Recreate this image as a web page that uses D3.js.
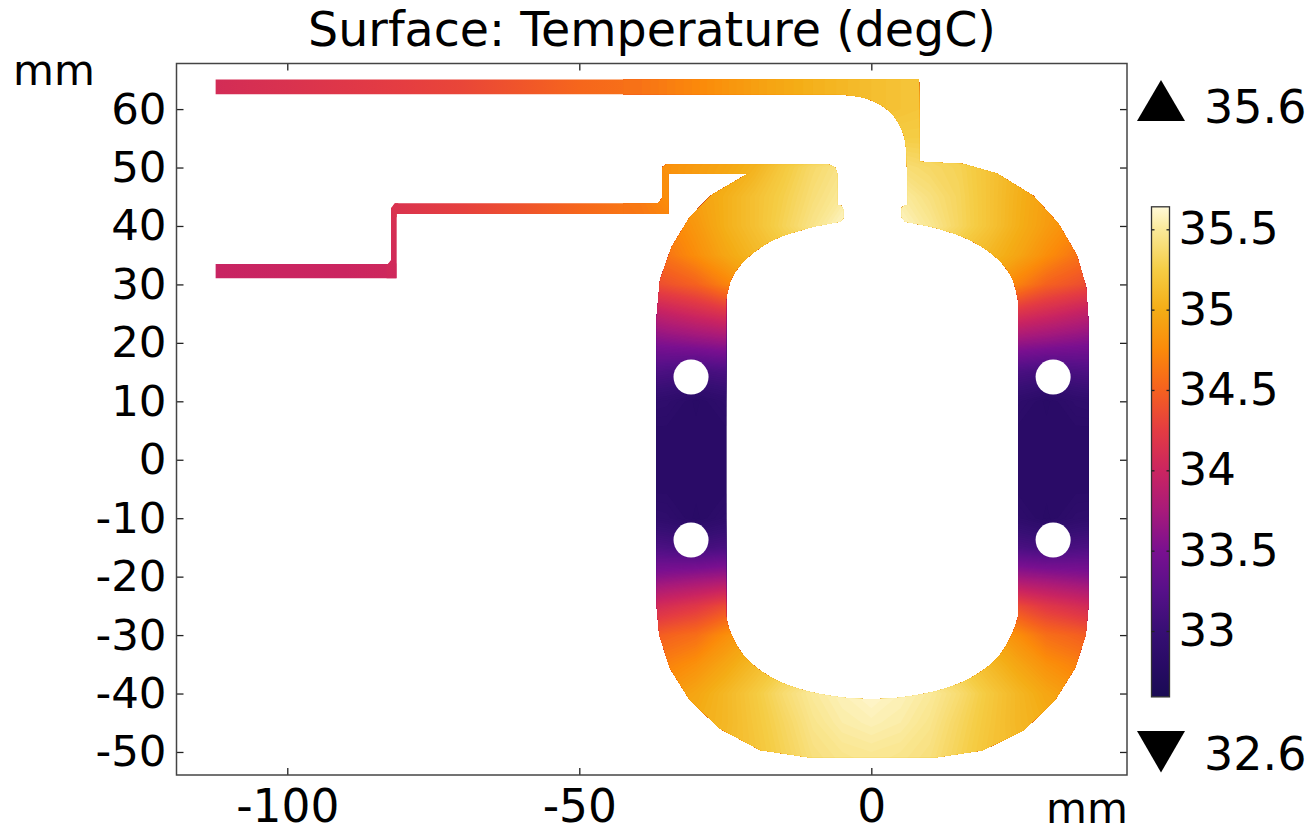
<!DOCTYPE html>
<html>
<head>
<meta charset="utf-8">
<script src="https://cdn.jsdelivr.net/npm/d3@7"></script>
<style>
    body { margin: 0; background: #fff; }
    text { font-family: "DejaVu Sans", sans-serif; fill: #000; }
</style>
</head>
<body>
<div id="chart-area"></div>
<script>
// colour table
var colorTemps = [32.6, 32.8, 33, 33.25, 33.5, 33.75, 34, 34.25, 34.5, 34.75, 35, 35.25, 35.5, 35.64];
var colorHexes = ["#1a0b55", "#290b66", "#370f74", "#571089", "#7a1090", "#a81a7a", "#cb2560", "#e43c42",
    "#f5611f", "#fb8a0a", "#f4ad16", "#f5cd45", "#fae99a", "#fff9d8"];

var xTicks = [-100, -50, 0];
var yTicks = [-50, -40, -30, -20, -10, 0, 10, 20, 30, 40, 50, 60];
var barTicks = [33, 33.5, 34, 34.5, 35, 35.5];
var tempMax = 35.6;
var tempMin = 32.6;

// temperature field over the loop (degC)
var gridX = [-40, -35, -30, -25, -20, -15, -10, -5, 0, 5, 10, 15, 20, 25, 30, 35, 40];
var gridY = [65, 60, 55, 50, 45, 40, 35, 30, 25, 20, 15, 10, 5, 0, -5, -10, -15, -20, -25, -30, -35, -40, -45, -50, -55];
var tempGrid = [
    [34.60, 34.67, 34.74, 34.82, 34.90, 34.97, 35.03, 35.08, 35.13, 35.17, 35.20, 35.20, 35.20, 35.20, 35.20, 35.20, 35.20],
    [34.60, 34.67, 34.74, 34.82, 34.90, 34.97, 35.03, 35.08, 35.13, 35.17, 35.20, 35.20, 35.20, 35.20, 35.20, 35.20, 35.20],
    [34.62, 34.72, 34.80, 34.90, 34.98, 35.05, 35.12, 35.18, 35.22, 35.25, 35.25, 35.20, 35.10, 35.00, 34.95, 34.90, 34.85],
    [34.70, 34.80, 34.88, 34.95, 35.05, 35.22, 35.36, 35.45, 35.45, 35.40, 35.35, 35.30, 35.18, 35.05, 34.92, 34.85, 34.80],
    [34.65, 34.78, 34.90, 35.02, 35.15, 35.27, 35.40, 35.50, 35.58, 35.52, 35.42, 35.32, 35.18, 35.03, 34.90, 34.80, 34.70],
    [34.62, 34.70, 34.85, 35.02, 35.15, 35.30, 35.45, 35.60, 35.62, 35.60, 35.48, 35.33, 35.18, 35.02, 34.88, 34.75, 34.62],
    [34.50, 34.62, 34.78, 34.95, 35.08, 35.20, 35.30, 35.40, 35.45, 35.40, 35.30, 35.20, 35.08, 34.95, 34.78, 34.62, 34.50],
    [34.30, 34.40, 34.50, 34.70, 34.90, 35.00, 35.00, 35.00, 35.00, 35.00, 35.00, 35.00, 34.90, 34.70, 34.50, 34.40, 34.30],
    [33.85, 33.95, 34.05, 34.15, 34.30, 34.40, 34.40, 34.40, 34.40, 34.40, 34.40, 34.40, 34.30, 34.15, 34.05, 33.95, 33.85],
    [33.50, 33.55, 33.60, 33.65, 33.70, 33.70, 33.70, 33.70, 33.70, 33.70, 33.70, 33.70, 33.70, 33.65, 33.60, 33.55, 33.50],
    [33.20, 33.15, 33.10, 33.15, 33.20, 33.20, 33.20, 33.20, 33.20, 33.20, 33.20, 33.20, 33.20, 33.15, 33.10, 33.15, 33.20],
    [32.92, 32.88, 32.80, 32.88, 32.92, 32.90, 32.90, 32.90, 32.90, 32.90, 32.90, 32.90, 32.92, 32.88, 32.80, 32.88, 32.92],
    [32.82, 32.82, 32.82, 32.82, 32.82, 32.82, 32.82, 32.82, 32.82, 32.82, 32.82, 32.82, 32.82, 32.82, 32.82, 32.82, 32.82],
    [32.82, 32.82, 32.82, 32.82, 32.82, 32.82, 32.82, 32.82, 32.82, 32.82, 32.82, 32.82, 32.82, 32.82, 32.82, 32.82, 32.82],
    [32.82, 32.82, 32.82, 32.82, 32.82, 32.82, 32.82, 32.82, 32.82, 32.82, 32.82, 32.82, 32.82, 32.82, 32.82, 32.82, 32.82],
    [32.92, 32.88, 32.80, 32.88, 32.92, 32.90, 32.90, 32.90, 32.90, 32.90, 32.90, 32.90, 32.92, 32.88, 32.80, 32.88, 32.92],
    [33.20, 33.15, 33.10, 33.15, 33.20, 33.20, 33.20, 33.20, 33.20, 33.20, 33.20, 33.20, 33.20, 33.15, 33.10, 33.15, 33.20],
    [33.55, 33.60, 33.65, 33.70, 33.75, 33.80, 33.80, 33.80, 33.80, 33.80, 33.80, 33.80, 33.75, 33.70, 33.65, 33.60, 33.55],
    [34.00, 34.10, 34.20, 34.35, 34.50, 34.60, 34.60, 34.60, 34.60, 34.60, 34.60, 34.60, 34.50, 34.35, 34.20, 34.10, 34.00],
    [34.40, 34.50, 34.58, 34.78, 34.95, 35.05, 35.05, 35.05, 35.05, 35.05, 35.05, 35.05, 34.95, 34.78, 34.58, 34.50, 34.40],
    [34.60, 34.70, 34.80, 34.95, 35.10, 35.25, 35.35, 35.45, 35.50, 35.45, 35.35, 35.25, 35.10, 34.95, 34.80, 34.70, 34.60],
    [34.80, 34.85, 34.95, 35.08, 35.22, 35.38, 35.50, 35.57, 35.62, 35.57, 35.50, 35.38, 35.22, 35.08, 34.95, 34.85, 34.80],
    [34.90, 34.95, 35.00, 35.08, 35.20, 35.33, 35.46, 35.53, 35.56, 35.53, 35.46, 35.33, 35.20, 35.08, 35.00, 34.95, 34.90],
    [35.00, 35.00, 35.05, 35.10, 35.18, 35.30, 35.42, 35.47, 35.49, 35.47, 35.42, 35.30, 35.18, 35.10, 35.05, 35.00, 35.00],
    [35.00, 35.00, 35.05, 35.10, 35.15, 35.25, 35.38, 35.43, 35.45, 35.43, 35.38, 35.25, 35.15, 35.10, 35.05, 35.00, 35.00]
];

// temperature along the feed lines, left of the grid
var topTailX = [-112.3, -100, -90, -80, -70, -60, -50, -40];
var topTailT = [34.08, 34.14, 34.2, 34.26, 34.32, 34.42, 34.53, 34.6];
var lowTailX = [-112.3, -100, -90, -81.3];
var lowTailT = [33.98, 33.99, 34.0, 34.03];
var legY = [31, 44];
var legT = [34.03, 34.14];
var midTailX = [-82, -70, -60, -50, -40];
var midTailT = [34.14, 34.28, 34.4, 34.53, 34.65];

// part outline in mm, straight facets
var outlineA = [[-112.27, 65.08], [8.17, 65.08], [8.22, 50.98], [15.76, 50.59], [21.48, 49.0], [27.75, 45.12],
    [32.02, 40.44], [35.17, 35.03], [36.76, 29.6], [37.16, 23.9], [37.16, -25.15], [36.71, -29.99], [34.88, -35.62],
    [31.46, -41.1], [26.15, -46.25], [19.07, -49.69], [11.2, -50.9], [-10.78, -50.9], [-18.94, -49.69], [-26.02, -45.96],
    [-31.16, -41.0], [-34.47, -35.69], [-36.3, -29.99], [-36.74, -25.15], [-36.74, 24.46], [-36.18, 30.75], [-34.17, 36.44],
    [-31.04, 41.58], [-27.33, 45.29], [-21.06, 49.0], [-34.76, 49.0], [-34.76, 42.04], [-81.27, 42.04], [-81.27, 31.04],
    [-112.27, 31.04], [-112.27, 33.48], [-82.77, 33.48], [-82.24, 34.17], [-82.24, 43.07], [-81.57, 43.87], [-36.53, 43.87],
    [-35.79, 44.77], [-35.79, 50.05], [-35.13, 50.54], [-7.36, 50.54], [-6.23, 50.05], [-5.83, 49.0], [-5.83, 43.57],
    [-5.18, 43.47], [-4.79, 42.88], [-4.79, 41.38], [-5.36, 40.72]];
// inner edge of the loop, smooth
var innerLeftTop = [[-5.36, 40.72], [-11.06, 39.58], [-16.83, 37.59], [-21.34, 34.46], [-23.9, 31.09], [-24.87, 27.32]];
var innerBottom = [[-24.87, -26.85], [-24.17, -29.44], [-21.92, -33.43], [-17.91, -36.82], [-12.78, -39.1], [-5.36, -40.65],
    [0.07, -40.94], [5.43, -40.65], [12.8, -39.1], [17.93, -36.82], [21.97, -33.43], [24.27, -29.44], [25.12, -26.85]];
var innerRightTop = [[25.12, 27.32], [24.1, 31.09], [21.53, 34.46], [16.89, 37.59], [11.41, 39.58], [5.77, 40.72]];
var outlineB = [[5.77, 40.72], [5.2, 41.52], [5.2, 43.07], [5.6, 43.47], [6.23, 43.57], [6.06, 52.42]];
var feedArc = [[6.06, 52.42], [5.48, 55.84], [3.2, 59.53], [-0.79, 61.83], [-5.92, 62.56]];
var outlineEnd = [[-5.92, 62.56], [-112.27, 62.56]];

var holeX = [-30.87, 31.13, -30.87, 31.13];
var holeY = [14.15, 14.15, -13.74, -13.74];
var holeR = 3;

var width = 1311, height = 833;

var svg = d3.select("#chart-area").append("svg")
    .attr("width", width)
    .attr("height", height)
    .style("display", "block");

var x = d3.scaleLinear().domain([-118.97, 43.78]).range([176.5, 1127]);
var y = d3.scaleLinear().domain([-53.94, 67.8]).range([775, 63.5]);
var color = d3.scaleLinear().domain(colorTemps).range(colorHexes);

var line = d3.line().x((d) => x(d[0])).y((d) => y(d[1]));
var curve = d3.line().x((d) => x(d[0])).y((d) => y(d[1])).curve(d3.curveCatmullRom);

var defs = svg.append("defs");

// one path for the part, mixing facets and smooth arcs
var strip = (s) => "L" + s.slice(1);
var partPath = line(outlineA) + strip(curve(innerLeftTop)) + strip(curve(innerBottom)) + strip(curve(innerRightTop))
    + strip(line(outlineB)) + strip(curve(feedArc)) + strip(line(outlineEnd)) + "Z";

defs.append("clipPath").attr("id", "part").append("path").attr("d", partPath);

function addGradient(id, x1, y1, x2, y2, stops) {
    var g = defs.append("linearGradient").attr("id", id)
        .attr("gradientUnits", "userSpaceOnUse")
        .attr("x1", x1).attr("y1", y1).attr("x2", x2).attr("y2", y2);
    g.selectAll("stop").data(stops).enter().append("stop")
        .attr("offset", (d) => d[0])
        .attr("stop-color", (d) => color(d[1]));
}

function tailStops(pos, temps) {
    var off = d3.scaleLinear().domain(d3.extent(pos)).range([0, 1]);
    return pos.map((p, i) => [off(p), temps[i]]);
}

addGradient("top-tail", x(topTailX[0]), 0, x(-40), 0, tailStops(topTailX, topTailT));
addGradient("low-tail", x(lowTailX[0]), 0, x(-81.3), 0, tailStops(lowTailX, lowTailT));
addGradient("leg", 0, y(31), 0, y(44), tailStops(legY, legT));
addGradient("mid-tail", x(-82), 0, x(-40), 0, tailStops(midTailX, midTailT));

var part = svg.append("g").attr("clip-path", "url(#part)");

// feed lines first, the field goes on top from x = -42 on
var rectMm = (x0, y0, x1, y1, fill) => part.append("rect")
    .attr("x", x(x0)).attr("y", y(y1))
    .attr("width", x(x1) - x(x0)).attr("height", y(y0) - y(y1))
    .attr("fill", fill);

rectMm(-113, 62, -39, 66, "url(#top-tail)");
rectMm(-113, 30, -81.3, 33.6, "url(#low-tail)");
rectMm(-83, 30, -81, 44, "url(#leg)");
rectMm(-81.9, 41.5, -39, 44, "url(#mid-tail)");

// field: filled contours of the grid, painted low to high
var nx = gridX.length, ny = gridY.length;
var gridValues = d3.merge(tempGrid);
var thresholds = d3.range(32.55, 35.66, 0.02);
var contours = d3.contours().size([nx, ny]).thresholds(thresholds).smooth(true)(gridValues);

var gx = d3.scaleLinear().domain([0.5, nx - 0.5]).range([x(gridX[0]), x(gridX[nx - 1])]);
var gy = d3.scaleLinear().domain([0.5, ny - 0.5]).range([y(gridY[0]), y(gridY[ny - 1])]);
var gridPath = d3.geoPath(d3.geoTransform({
    point: function (px, py) { this.stream.point(gx(px), gy(py)); }
}));

part.selectAll("path.band").data(contours).enter().append("path")
    .attr("class", "band")
    .attr("d", gridPath)
    .attr("fill", (d) => color(d.value + 0.01));

// mounting holes
svg.selectAll("circle.hole").data(holeX).enter().append("circle")
    .attr("class", "hole")
    .attr("cx", (d) => x(d))
    .attr("cy", (d, i) => y(holeY[i]))
    .attr("r", x(holeR) - x(0))
    .attr("fill", "#fff");

// frame and axes
var plain = (d) => String(d);
var styleAxis = (g, size) => {
    g.select(".domain").remove();
    g.selectAll("line").attr("stroke", "#222").attr("stroke-width", 1.3);
    g.selectAll("text").style("font-size", size + "px");
};

svg.append("g").attr("transform", "translate(0," + y.range()[0] + ")")
    .call(d3.axisBottom(x).tickValues(xTicks).tickFormat(plain).tickSizeInner(-7).tickSizeOuter(0).tickPadding(15))
    .call(styleAxis, 45.5);
svg.append("g").attr("transform", "translate(0," + y.range()[1] + ")")
    .call(d3.axisTop(x).tickValues(xTicks).tickFormat("").tickSizeInner(-7).tickSizeOuter(0))
    .call(styleAxis, 45.5);
svg.append("g").attr("transform", "translate(" + x.range()[0] + ",0)")
    .call(d3.axisLeft(y).tickValues(yTicks).tickFormat(plain).tickSizeInner(-7).tickSizeOuter(0).tickPadding(10))
    .call(styleAxis, 43.5);
svg.append("g").attr("transform", "translate(" + x.range()[1] + ",0)")
    .call(d3.axisRight(y).tickValues(yTicks).tickFormat("").tickSizeInner(-7).tickSizeOuter(0))
    .call(styleAxis, 43.5);

svg.append("rect")
    .attr("x", x.range()[0]).attr("y", y.range()[1])
    .attr("width", x.range()[1] - x.range()[0]).attr("height", y.range()[0] - y.range()[1])
    .attr("fill", "none").attr("stroke", "#444").attr("stroke-width", 1.5);

svg.append("text").attr("x", 652).attr("y", 46).attr("text-anchor", "middle")
    .style("font-size", "47.5px").text("Surface: Temperature (degC)");
svg.append("text").attr("x", 13).attr("y", 85).style("font-size", "42px").text("mm");
svg.append("text").attr("x", 1046).attr("y", 823).style("font-size", "42px").text("mm");

// colour bar
var barLeft = 1151.5, barRight = 1169.5;
var barY = d3.scaleLinear().domain([33, 35.5]).range([631, 229.3]);

addGradient("bar", 0, barY(colorTemps[0]), 0, barY(colorTemps[colorTemps.length - 1]),
    tailStops(colorTemps, colorTemps));

svg.append("rect")
    .attr("x", barLeft).attr("y", barY(35.64))
    .attr("width", barRight - barLeft).attr("height", barY(32.59) - barY(35.64))
    .attr("fill", "url(#bar)").attr("stroke", "#333").attr("stroke-width", 1.3);

svg.append("g").attr("transform", "translate(" + barRight + ",0)")
    .call(d3.axisRight(barY).tickValues(barTicks).tickFormat(plain).tickSizeInner(-3).tickSizeOuter(0).tickPadding(9))
    .call(styleAxis, 45);
svg.append("g").attr("transform", "translate(" + barLeft + ",0)")
    .call(d3.axisLeft(barY).tickValues(barTicks).tickFormat("").tickSizeInner(-3).tickSizeOuter(0))
    .call(styleAxis, 45);

// max and min markers
var tri = d3.line();
svg.append("path").attr("d", tri([[1137, 121], [1185, 121], [1161, 80]]) + "Z").attr("fill", "#000");
svg.append("path").attr("d", tri([[1137, 731], [1185, 731], [1161, 772.5]]) + "Z").attr("fill", "#000");
svg.append("text").attr("x", 1204).attr("y", 123).style("font-size", "46px").text(tempMax);
svg.append("text").attr("x", 1204).attr("y", 770).style("font-size", "46px").text(tempMin);
</script>
</body>
</html>
